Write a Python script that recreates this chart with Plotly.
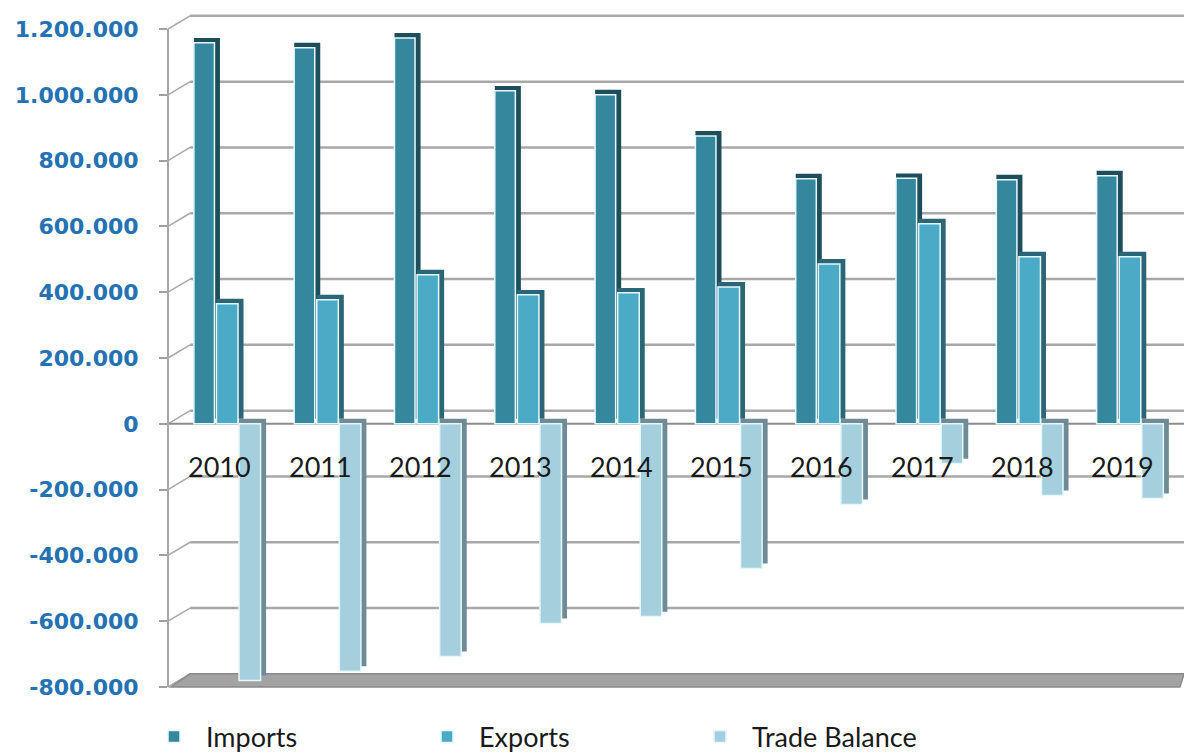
import plotly.graph_objects as go

years = [2010, 2011, 2012, 2013, 2014, 2015, 2016, 2017, 2018, 2019]
imports = [1158000, 1143000, 1173000, 1012000, 1000000, 875000, 745000, 746000, 742000, 754000]
exports = [365000, 377000, 453000, 392000, 398000, 416000, 486000, 608000, 508000, 508000]
trade_balance = [-780000, -752000, -707000, -607000, -586000, -440000, -245000, -121000, -218000, -227000]
tick_values = [-800000, -600000, -400000, -200000, 0, 200000, 400000, 600000, 800000, 1000000, 1200000]
tick_text = [f"{v:,}".replace(",", ".") for v in tick_values]

DEPTH = 15000      # visual 3D depth shift (value units)
BACK = 40000       # back-wall offset for gridlines (value units)
SIDE = 0.055
BACKX = 0.0217

series = [
    ("Imports", imports, "#35879d", "#1e4e5a", -0.26, 0.205),
    ("Exports", exports, "#4babc6", "#2b6676", -0.035, 0.215),
    ("Trade Balance", trade_balance, "#a6cfdd", "#6f8b95", 0.19, 0.215),
]

fig = go.Figure()
for name, vals, face, side, off, w in series:
    fig.add_trace(go.Bar(
        x=years, y=vals, base=[DEPTH] * len(vals),
        offset=off, width=w + SIDE,
        marker=dict(color=side, line=dict(width=0)),
        showlegend=False, hoverinfo="skip"))
    fig.add_trace(go.Bar(
        x=years, y=vals, name=name,
        offset=off, width=w,
        marker=dict(color=face, line=dict(color="#e6f8fc", width=1.5))))

shapes = []
for v in tick_values[1:]:
    shapes.append(dict(type="line", xref="paper", yref="y", x0=BACKX, x1=1,
                       y0=v + BACK, y1=v + BACK, line=dict(color="#a8a8a8", width=2.5), layer="below"))
for v in tick_values:
    shapes.append(dict(type="line", xref="paper", yref="y", x0=0, x1=BACKX,
                       y0=v, y1=v + BACK, line=dict(color="#a8a8a8", width=1.5), layer="below"))
# floor
ymin = tick_values[0]
shapes.append(dict(type="path", xref="paper", yref="y",
                   path=f"M 0.003,{ymin} L {BACKX},{ymin + BACK} L 1,{ymin + BACK} L 0.996,{ymin} Z",
                   fillcolor="#a3a3a3", line=dict(color="#8a8a8a", width=1.5), layer="below"))
# front zero line and left axis
shapes.append(dict(type="line", xref="paper", yref="y", x0=0, x1=1, y0=0, y1=0,
                   line=dict(color="#8c8c8c", width=2), layer="below"))
shapes.append(dict(type="line", xref="paper", yref="y", x0=0, x1=0,
                   y0=tick_values[0], y1=tick_values[-1], line=dict(color="#a8a8a8", width=2), layer="below"))

annotations = [dict(x=yr, y=0, xref="x", yref="y", text=str(yr), showarrow=False,
                    yshift=-43, font=dict(family="Lato", size=27, color="#1a1a1a"))
               for yr in years]

fig.update_layout(
    width=1184, height=755,
    margin=dict(l=168, r=0, t=10, b=63, autoexpand=False),
    paper_bgcolor="white", plot_bgcolor="white",
    barmode="overlay",
    showlegend=True,
    legend=dict(orientation="h", x=142 / 1184, xref="container", xanchor="left",
                y=18 / 755, yref="container", yanchor="middle",
                entrywidth=204, entrywidthmode="pixels", itemwidth=54,
                font=dict(family="Lato", size=27, color="#1a1a1a"),
                traceorder="normal", bgcolor="rgba(0,0,0,0)"),
    xaxis=dict(range=[2010 - 0.518, 2010 + 9.611], showgrid=False, zeroline=False,
               showticklabels=False, showline=False, ticks=""),
    yaxis=dict(range=[-815200, 1257760], tickvals=tick_values, ticktext=tick_text,
               showgrid=False, zeroline=False, showline=False, automargin=False,
               ticks="outside", ticklen=8, tickcolor="#a0a0a0", tickwidth=1.5,
               ticklabelstandoff=16,
               tickfont=dict(family="DejaVu Sans", size=22, color="#2472b3", weight="bold")),
    shapes=shapes, annotations=annotations,
)

fig.write_html("out.html")
